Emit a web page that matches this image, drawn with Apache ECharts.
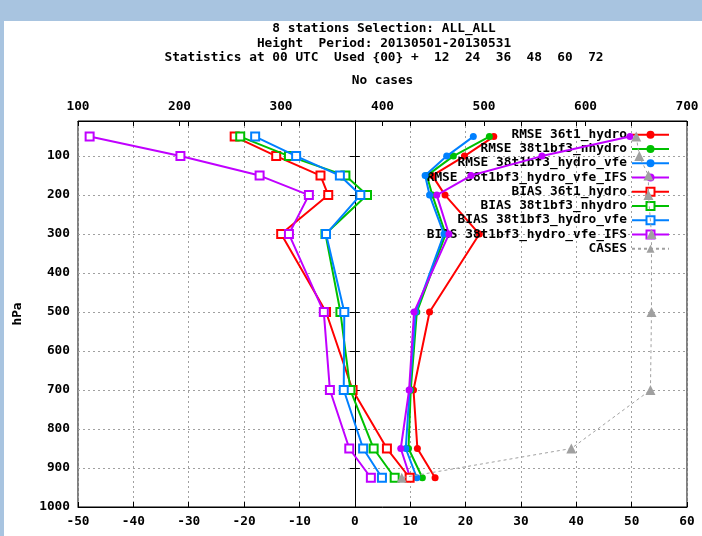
<!DOCTYPE html>
<html><head><meta charset="utf-8">
<script src="https://cdn.jsdelivr.net/npm/echarts@6/dist/echarts.min.js"></script>
<style>
html,body{margin:0;padding:0;background:#a8c4e0;width:702px;height:536px;overflow:hidden;}
#bg{position:absolute;left:4px;top:21px;width:698px;height:515px;background:#fff;}
#c{position:absolute;left:0;top:0;width:702px;height:536px;}
</style></head><body><div id="bg"></div><div id="c"></div>
<script>
// pressure levels (hPa)
const levels = [50, 100, 150, 200, 300, 500, 700, 850, 925];
// RMSE
const rmse36t1Hydro      = [25.1, 19.8, 14.0, 16.3, 22.5, 13.5, 10.6, 11.3, 14.5];
const rmse38Nhydro       = [24.3, 17.8, 13.0, 14.0, 16.4, 11.2, 10.1, 9.7, 12.2];
const rmse38HydroVfe     = [21.4, 16.6, 12.7, 13.5, 16.1, 11.0, 9.9, 9.2, 11.2];
const rmse38HydroVfeIFS  = [49.7, 33.8, 21.0, 14.8, 17.0, 10.7, 9.8, 8.3, 10.0];
// BIAS
const bias36t1Hydro      = [-21.7, -14.2, -6.2, -4.8, -13.3, -5.2, -0.4, 5.8, 9.9];
const bias38Nhydro       = [-20.7, -11.9, -1.7, 2.2, -5.3, -2.6, -0.8, 3.4, 7.2];
const bias38HydroVfe     = [-18.0, -10.6, -2.7, 1.0, -5.2, -1.9, -2.0, 1.5, 4.9];
const bias38HydroVfeIFS  = [-47.9, -31.5, -17.2, -8.3, -11.9, -5.6, -4.5, -1.0, 2.9];
// number of cases
const casesCounts        = [650, 653, 662, 662, 665, 665, 664, 586, 419];
// tick labels
const hPaTicks = [100, 200, 300, 400, 500, 600, 700, 800, 900, 1000];
const titleLines = [
  '8 stations Selection: ALL_ALL',
  'Height  Period: 20130501-20130531',
  'Statistics at 00 UTC  Used {00} +  12  24  36  48  60  72'
];
const seriesNames = [
  'RMSE 36t1_hydro', 'RMSE 38t1bf3_nhydro', 'RMSE 38t1bf3_hydro_vfe', 'RMSE 38t1bf3_hydro_vfe_IFS',
  'BIAS 36t1_hydro', 'BIAS 38t1bf3_nhydro', 'BIAS 38t1bf3_hydro_vfe', 'BIAS 38t1bf3_hydro_vfe_IFS',
  'CASES'
];

const FONT = '"DejaVu Sans Mono", "Liberation Mono", monospace';
const FS = 12.8;
const colors = ['#ff0000', '#00c000', '#0080ff', '#c000ff'];
const grey = '#a0a0a0';

function pairs(vals) { return vals.map((v, i) => [v, levels[i]]); }

const rmseSets = [rmse36t1Hydro, rmse38Nhydro, rmse38HydroVfe, rmse38HydroVfeIFS];
const biasSets = [bias36t1Hydro, bias38Nhydro, bias38HydroVfe, bias38HydroVfeIFS];

const series = [];
rmseSets.forEach((s, k) => series.push({
  name: seriesNames[k], type: 'line', xAxisIndex: 0, yAxisIndex: 0,
  data: pairs(s), symbol: 'circle', symbolSize: 7,
  lineStyle: { color: colors[k], width: 2 },
  itemStyle: { color: colors[k] }, z: 2 + k
}));
biasSets.forEach((s, k) => series.push({
  name: seriesNames[4 + k], type: 'line', xAxisIndex: 0, yAxisIndex: 0,
  data: pairs(s), symbol: 'emptyRect', symbolSize: 8,
  lineStyle: { color: colors[k], width: 2 },
  itemStyle: { color: colors[k], borderWidth: 2 }, z: 6 + k
}));
series.push({
  name: seriesNames[8], type: 'line', xAxisIndex: 1, yAxisIndex: 0,
  data: pairs(casesCounts), symbol: 'triangle', symbolSize: 10,
  lineStyle: { color: grey, width: 1, type: [3, 3] },
  itemStyle: { color: grey }, z: 11
});

const txt = { color: '#000', fontFamily: FONT, fontWeight: 'bold', fontSize: FS };
const tickStyle = { show: true, inside: true, length: 5, lineStyle: { color: '#000', width: 1 } };
const plain = v => String(v);

const chart = echarts.init(document.getElementById('c'), null, { renderer: 'canvas' });
chart.setOption({
  animation: false,
  backgroundColor: 'transparent',
  graphic: titleLines.map((t, i) => ({
    type: 'text', x: 384, y: 29 + i * 14.2,
    style: { text: t, textAlign: 'center', textVerticalAlign: 'middle',
      font: 'bold ' + FS + 'px ' + FONT, fill: '#000' }
  })),
  grid: { left: 78, right: 15, top: 121, bottom: 29, show: true, borderColor: '#000', borderWidth: 1, backgroundColor: 'transparent' },
  legend: {
    orient: 'vertical', right: 32, top: 127.5, padding: 0, itemWidth: 37, itemHeight: 10, itemGap: 0,
    align: 'right', data: seriesNames, selectedMode: false,
    textStyle: { ...txt, lineHeight: 14.25, height: 14.25 }
  },
  xAxis: [
    { type: 'value', position: 'bottom', min: -50, max: 60, interval: 10,
      axisLine: { show: true, lineStyle: { color: '#000' } }, axisTick: tickStyle,
      axisLabel: { ...txt, margin: 8, formatter: plain },
      splitLine: { show: true, lineStyle: { color: grey, type: [2, 3], width: 1 } } },
    { type: 'value', position: 'top', min: 100, max: 700, interval: 100,
      name: 'No cases', nameLocation: 'middle', nameGap: 34, nameTextStyle: txt,
      axisLine: { show: true, lineStyle: { color: '#000' } }, axisTick: tickStyle,
      axisLabel: { ...txt, margin: 8, formatter: plain }, splitLine: { show: false } },
    { type: 'value', position: 'top', min: -50, max: 60, interval: 10,
      axisLine: { show: false }, axisTick: tickStyle,
      axisLabel: { show: false }, splitLine: { show: false } }
  ],
  yAxis: [
    { type: 'value', inverse: true, min: 10, max: 1000,
      name: 'hPa', nameLocation: 'middle', nameGap: 54, nameRotate: 90, nameTextStyle: txt,
      axisLine: { show: true, lineStyle: { color: '#000' } },
      axisTick: { ...tickStyle, customValues: hPaTicks },
      axisLabel: { ...txt, margin: 8, customValues: hPaTicks, formatter: plain },
      splitLine: { show: true, lineStyle: { color: grey, type: [2, 3], width: 1 } } },
    { type: 'value', inverse: true, min: 10, max: 1000, position: 'right',
      axisLine: { show: true, lineStyle: { color: '#000' } },
      axisTick: { ...tickStyle, customValues: hPaTicks },
      axisLabel: { show: false }, splitLine: { show: false } }
  ],
  series: series
});
</script></body></html>
